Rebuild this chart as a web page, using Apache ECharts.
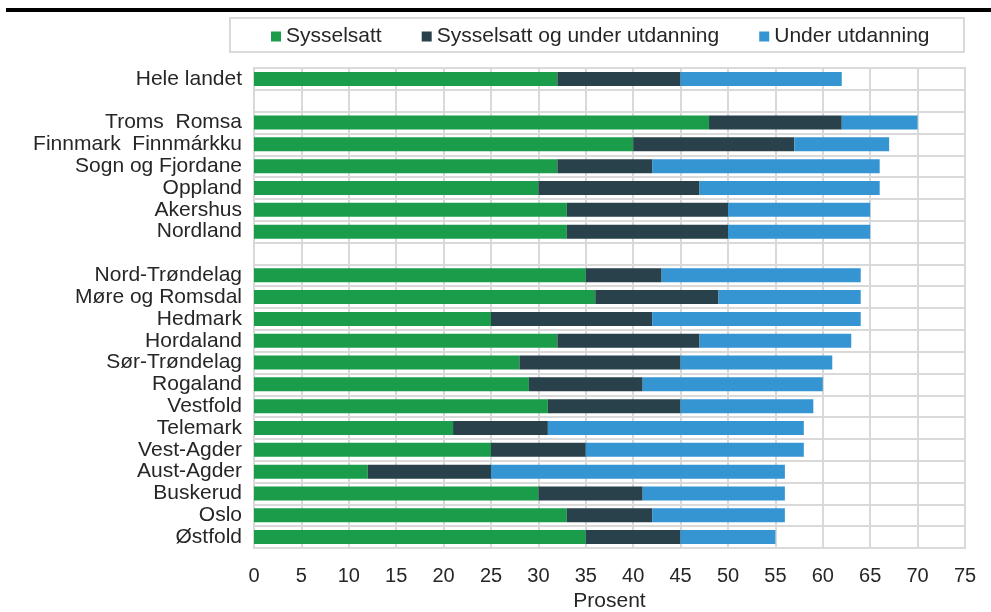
<!DOCTYPE html>
<html>
<head>
<meta charset="utf-8">
<script src="https://cdn.jsdelivr.net/npm/echarts@6/dist/echarts.min.js"></script>
<style>html,body{margin:0;padding:0;background:#fff}#c{width:991px;height:612px}</style>
</head>
<body>
<div id="c"></div>
<script>
const categories = ['Hele landet', '', 'Troms  Romsa', 'Finnmark  Finnmárkku', 'Sogn og Fjordane', 'Oppland', 'Akershus', 'Nordland', ' ',
  'Nord-Trøndelag', 'Møre og Romsdal', 'Hedmark', 'Hordaland', 'Sør-Trøndelag', 'Rogaland', 'Vestfold', 'Telemark', 'Vest-Agder', 'Aust-Agder', 'Buskerud', 'Oslo', 'Østfold'];
const sysselsatt =        [32, null, 48, 40, 32, 30, 33, 33, null, 35, 36, 25, 32, 28, 29, 31, 21, 25, 12, 30, 33, 35];
const sysselsattUtdanning = [13, null, 14, 17, 10, 17, 17, 17, null, 8, 13, 17, 15, 17, 12, 14, 10, 10, 13, 11, 9, 10];
const underUtdanning =    [17, null, 8, 10, 24, 19, 15, 15, null, 21, 15, 22, 16, 16, 19, 14, 27, 23, 31, 15, 14, 10];
const seriesNames = ['Sysselsatt', 'Sysselsatt og under utdanning', 'Under utdanning'];
const xTicks = {min: 0, max: 75, interval: 5};
const xName = 'Prosent';

const colors = ['#1b9c4b', '#28414a', '#3595d3'];
const font = 'Liberation Sans, Arial, sans-serif';
const txt = '#262626';
const chart = echarts.init(document.getElementById('c'), null, {renderer: 'canvas'});
const mk = (name, data, i) => ({
  name, type: 'bar', stack: 'tot', data, barWidth: 14,
  itemStyle: {color: colors[i]}, emphasis: {disabled: true}
});
chart.setOption({
  animation: false,
  textStyle: {fontFamily: font},
  graphic: [
    {type: 'rect', shape: {x: 6, y: 8, width: 985, height: 4}, style: {fill: '#000'}},
    {type: 'rect', shape: {x: 230, y: 18, width: 734, height: 34}, style: {fill: 'none', stroke: '#d9d9d9', lineWidth: 2}}
  ],
  legend: {
    left: 266, top: 21, itemWidth: 10, itemHeight: 10, itemGap: 40, icon: 'rect',
    textStyle: {fontSize: 21, color: txt, fontFamily: font},
    data: seriesNames
  },
  grid: {left: 254, right: 26, top: 68, bottom: 64, show: true, borderColor: '#d9d9d9', borderWidth: 2,
    outerBoundsMode: 'none', containLabel: false},
  xAxis: {
    type: 'value', min: xTicks.min, max: xTicks.max, interval: xTicks.interval,
    name: xName, nameLocation: 'middle', nameGap: 40,
    nameTextStyle: {fontSize: 21, color: txt, fontFamily: font},
    axisLabel: {fontSize: 20, color: txt, margin: 18, fontFamily: font},
    axisLine: {show: false},
    axisTick: {show: true, inside: true, length: 4, lineStyle: {color: '#d9d9d9', width: 2}},
    splitLine: {show: true, lineStyle: {color: '#d9d9d9', width: 2}}
  },
  yAxis: {
    type: 'category', data: categories, inverse: true,
    axisLabel: {fontSize: 21, color: txt, margin: 12, interval: 0, fontFamily: font},
    axisLine: {show: false}, axisTick: {show: false},
    splitLine: {show: true, interval: 0, lineStyle: {color: '#d9d9d9', width: 2}}
  },
  series: [mk(seriesNames[0], sysselsatt, 0), mk(seriesNames[1], sysselsattUtdanning, 1), mk(seriesNames[2], underUtdanning, 2)]
});
</script>
</body>
</html>
